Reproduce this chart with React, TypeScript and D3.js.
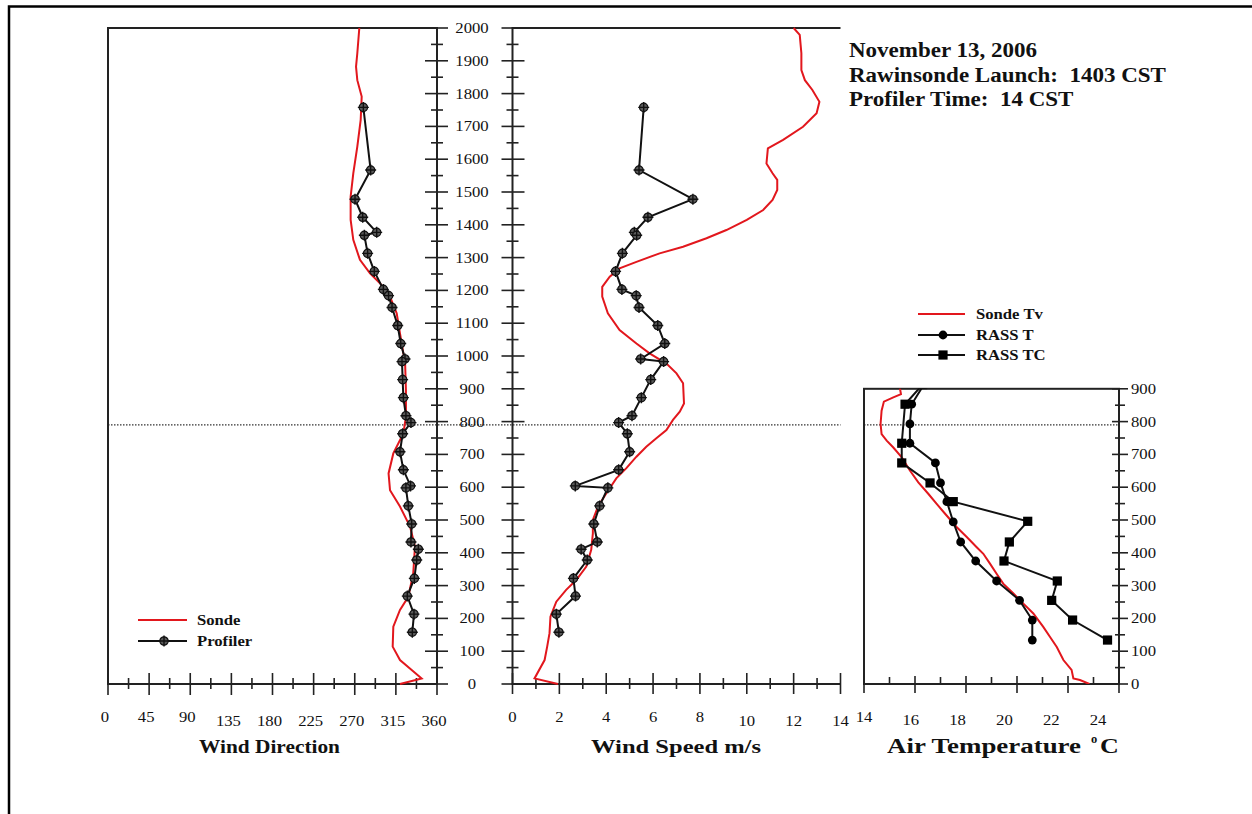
import React from "react";
import * as d3 from "d3";

// ---- Profile data: [height m, value] ----
const sondeDirection: [number, number][] = [
  [2000, 275], [1923, 272.8], [1882, 271.4], [1841, 272.8], [1791, 277.6], [1720, 276.5],
  [1638, 272.8], [1557, 268.4], [1486, 265.5], [1415, 265.5], [1354, 268.4], [1293, 275.7],
  [1252, 286.7], [1222, 297.6], [1181, 308.6], [1130, 315.9], [1069, 319.5], [1008, 323.2],
  [988, 325], [896, 326], [815, 326], [764, 323.2], [703, 312.2], [642, 307], [591, 308.6],
  [541, 319.5], [480, 330.5], [419, 335.9], [337, 334], [266, 328.6], [226, 319.5],
  [175, 312.2], [114, 311.5], [73, 319.5], [43, 332.3], [17, 343.2], [0, 319.5],
];

const sondeSpeed: [number, number][] = [
  [2000, 12.0], [1979, 12.26], [1923, 12.33], [1872, 12.33], [1841, 12.48], [1811, 12.8],
  [1775, 13.1], [1740, 12.98], [1699, 12.4], [1659, 11.55], [1633, 10.9], [1587, 10.84],
  [1557, 11.1], [1537, 11.3], [1506, 11.3], [1476, 11.1], [1445, 10.7], [1415, 10.0],
  [1384, 9.13], [1359, 8.28], [1333, 7.28], [1313, 6.28], [1287, 5.29], [1267, 4.57],
  [1242, 4.15], [1211, 3.83], [1181, 3.83], [1130, 4.07], [1079, 4.57], [1038, 5.29],
  [1008, 5.85], [977, 6.57], [947, 7.0], [917, 7.28], [855, 7.32], [830, 7.14], [805, 6.85],
  [774, 6.57], [749, 6.14], [723, 5.71], [693, 5.29], [658, 4.86], [627, 4.43], [581, 4.0],
  [541, 3.65], [500, 3.43], [459, 3.43], [409, 3.36], [358, 3.15], [317, 2.72], [287, 2.29],
  [251, 1.87], [205, 1.62], [155, 1.58], [114, 1.48], [73, 1.37], [17, 0.94], [0, 1.94],
];

const profilerHeights = [
  1758, 1567, 1478, 1423, 1377, 1368, 1313, 1258, 1203, 1184, 1148, 1093, 1038, 991, 983,
  928, 873, 818, 797, 763, 708, 653, 604, 598, 543, 488, 433, 411, 378, 322, 268, 213, 158,
];
const profilerDirection = [
  279.4, 287.4, 270.3, 278.7, 294, 280.5, 284.1, 291.4, 301.3, 307, 310.8, 317, 320.3, 325,
  321.7, 322.4, 323.2, 326, 331.5, 322.4, 319.5, 323.2, 331, 326, 328.6, 332.3, 331.5, 339.6,
  337.8, 335.2, 327.5, 334.8, 333,
];
const profilerSpeed = [
  5.6, 5.4, 7.7, 5.78, 5.2, 5.3, 4.69, 4.4, 4.67, 5.28, 5.4, 6.2, 6.5, 5.47, 6.45, 5.9, 5.5,
  5.1, 4.53, 4.9, 5.0, 4.53, 2.68, 4.07, 3.72, 3.47, 3.62, 2.93, 3.19, 2.6, 2.69, 1.87, 1.98,
];

const sondeTv: [number, number][] = [
  [905, 15.4], [884, 15.45], [874, 15.15], [861, 14.78], [833, 14.69], [793, 14.65],
  [762, 14.69], [742, 14.89], [721, 15.15], [691, 15.48], [651, 15.8], [615, 16.13],
  [580, 16.52], [549, 16.85], [519, 17.18], [478, 17.64], [448, 18.03], [417, 18.42],
  [397, 18.68], [367, 18.94], [336, 19.2], [306, 19.46], [276, 19.86], [245, 20.25],
  [215, 20.64], [174, 21.03], [144, 21.29], [113, 21.56], [73, 21.82], [43, 22.14],
  [17, 22.21], [12, 22.47], [0, 22.84],
];

const rassT: [number, number][] = [
  [913, 16.35], [853, 15.87], [793, 15.8], [734, 15.8], [674, 16.8], [613, 17.0], [556, 17.25],
  [494, 17.5], [433, 17.79], [375, 18.38], [314, 19.2], [255, 20.1], [195, 20.6], [134, 20.6],
];

const rassTC: [number, number][] = [
  [913, 16.3], [853, 15.61], [734, 15.48], [674, 15.48], [613, 16.59], [556, 17.5],
  [496, 20.42], [433, 19.7], [375, 19.49], [314, 21.58], [255, 21.36], [195, 22.18], [134, 23.55],
];

// ---- Axis tick labels ----
const heightLabels = d3.range(0, 2001, 100);
const tempHeightLabels = d3.range(0, 901, 100);
const directionLabels = [0, 45, 90, 135, 180, 225, 270, 315, 360];
const speedLabels = [0, 2, 4, 6, 8, 10, 12, 14];
const temperatureLabels = [14, 16, 18, 20, 22, 24];
const inversionHeight = 790;

const titleLines = ["November 13, 2006", "Rawinsonde Launch:  1403 CST", "Profiler Time:  14 CST"];

// ---- Scales ----
const BOTTOM = 684;
const PX_PER_M = 656 / 2000;
const yMain = d3.scaleLinear().domain([0, 2000]).range([BOTTOM, BOTTOM - 2000 * PX_PER_M]);
const yTemp = d3.scaleLinear().domain([0, 900]).range([BOTTOM, BOTTOM - 900 * PX_PER_M]);
const xDir = d3.scaleLinear().domain([0, 360]).range([108, 437]);
const xSpd = d3.scaleLinear().domain([0, 14]).range([512.5, 840.5]);
const xTemp = d3.scaleLinear().domain([14, 24]).range([864, 1119]);
// the temperature number row is typeset on a tighter pitch than its ticks
const xTempText = d3.scaleLinear().domain([14, 24]).range([864, 1098]);

const RED = "#e2171d";
const FONT = "'Liberation Serif', 'Times New Roman', serif";
const SX = 1.15;

function Txt(props: {
  x: number; y: number; size: number; bold?: boolean; anchor?: string; children: React.ReactNode;
}) {
  const { x, y, size, bold, anchor = "start", children } = props;
  return (
    <text
      transform={`translate(${x},${y}) scale(${SX},1)`}
      fontFamily={FONT}
      fontSize={size}
      fontWeight={bold ? "bold" : "normal"}
      textAnchor={anchor}
      fill="#111"
      style={{ whiteSpace: "pre" }}
    >
      {children}
    </text>
  );
}

// axis title stretched to a set width
function Title(props: { x: number; y: number; width: number; size: number; children: string }) {
  const { x, y, width, size, children } = props;
  return (
    <text
      x={x}
      y={y}
      fontFamily={FONT}
      fontSize={size}
      fontWeight="bold"
      fill="#111"
      textLength={width}
      lengthAdjust="spacingAndGlyphs"
    >
      {children}
    </text>
  );
}

function ProfMark({ x, y }: { x: number; y: number }) {
  return (
    <g transform={`translate(${x},${y})`}>
      <circle r={4.2} fill="#5a5a5a" stroke="#111" strokeWidth={1.2} />
      <path d="M-5.5,0H5.5M0,-5.5V5.5" stroke="#111" strokeWidth={1.4} />
    </g>
  );
}

export default function App() {
  const dirSondePath = d3.line<[number, number]>().x((d) => xDir(d[1])).y((d) => yMain(d[0]))(sondeDirection)!;
  const spdSondePath = d3.line<[number, number]>().x((d) => xSpd(d[1])).y((d) => yMain(d[0]))(sondeSpeed)!;
  const idx = profilerHeights.map((_, i) => i);
  const dirProfPath = d3.line<number>().x((i) => xDir(profilerDirection[i])).y((i) => yMain(profilerHeights[i]))(idx)!;
  const spdProfPath = d3.line<number>().x((i) => xSpd(profilerSpeed[i])).y((i) => yMain(profilerHeights[i]))(idx)!;
  const tempLine = d3.line<[number, number]>().x((d) => xTemp(d[1])).y((d) => yTemp(d[0]));

  const yTicks = d3.range(0, 2001, 50);
  const yTempTicks = d3.range(0, 901, 50);
  const dirTicks = d3.range(0, 361, 22.5);
  const spdTicks = d3.range(0, 15, 1);
  const tTicks = d3.range(14, 25, 1);
  const axisColor = "#222";

  const yDot = yMain(inversionHeight);

  return (
    <svg
      width={1252}
      height={814}
      style={{ position: "absolute", left: 0, top: 0, display: "block", background: "#fff" }}
    >
      <defs>
        <clipPath id="tempClip">
          <rect x={xTemp(14)} y={yTemp(900)} width={xTemp(24) - xTemp(14)} height={yTemp(0) - yTemp(900)} />
        </clipPath>
      </defs>

      {/* outer frame */}
      <path d="M9,814V6.5H1252" fill="none" stroke="#000" strokeWidth={2.5} />

      {/* dotted reference height */}
      <line x1={xDir(0)} x2={xSpd(14)} y1={yDot} y2={yDot} stroke="#333" strokeWidth={1.2} strokeDasharray="1.5 1.5" />
      <line x1={xTemp(14)} x2={xTemp(24)} y1={yDot} y2={yDot} stroke="#333" strokeWidth={1.2} strokeDasharray="1.5 1.5" />

      {/* ---------- Wind direction panel ---------- */}
      <rect x={xDir(0)} y={yMain(2000)} width={xDir(360) - xDir(0)} height={yMain(0) - yMain(2000)} fill="none" stroke={axisColor} strokeWidth={2} />
      {dirTicks.map((v) => {
        const major = v % 45 === 0;
        return (
          <line key={"dt" + v} x1={xDir(v)} x2={xDir(v)} y1={BOTTOM - (major ? 11 : 6)} y2={BOTTOM + (major ? 11 : 5)} stroke={axisColor} strokeWidth={1.6} />
        );
      })}
      {yTicks.map((v) => {
        const major = v % 100 === 0;
        return (
          <g key={"yt" + v}>
            <line x1={xDir(360) - (major ? 12 : 6)} x2={xDir(360) + (major ? 11 : 6)} y1={yMain(v)} y2={yMain(v)} stroke={axisColor} strokeWidth={1.6} />
            <line x1={xSpd(0) - (major ? 11 : 6)} x2={xSpd(0) + (major ? 12 : 6)} y1={yMain(v)} y2={yMain(v)} stroke={axisColor} strokeWidth={1.6} />
          </g>
        );
      })}
      {heightLabels.map((v) => (
        <Txt key={"hl" + v} x={472} y={yMain(v) + 5} size={14.5} anchor="middle">{v}</Txt>
      ))}
      {directionLabels.map((v) => (
        <Txt key={"dl" + v} x={xDir(v) - 3} y={v < 100 ? 722 : 726} size={14.5} anchor="middle">{v}</Txt>
      ))}
      <path d={dirSondePath} fill="none" stroke={RED} strokeWidth={2} />
      <path d={dirProfPath} fill="none" stroke="#111" strokeWidth={2} />
      {idx.map((i) => (
        <ProfMark key={"pd" + i} x={xDir(profilerDirection[i])} y={yMain(profilerHeights[i])} />
      ))}
      <Title x={199} y={753} width={141} size={19}>Wind Direction</Title>

      {/* wind legend */}
      <line x1={138} x2={187} y1={620} y2={620} stroke={RED} strokeWidth={2} />
      <Txt x={197} y={625} size={14.5} bold>Sonde</Txt>
      <line x1={138} x2={187} y1={641} y2={641} stroke="#111" strokeWidth={2} />
      <ProfMark x={164} y={641} />
      <Txt x={197} y={646} size={14.5} bold>Profiler</Txt>

      {/* ---------- Wind speed panel ---------- */}
      <path d={`M${xSpd(14)},${yMain(2000)}H${xSpd(0)}V${yMain(0)}H${xSpd(14)}`} fill="none" stroke={axisColor} strokeWidth={2} />
      {spdTicks.map((v) => {
        const major = v % 2 === 0;
        return (
          <line key={"st" + v} x1={xSpd(v)} x2={xSpd(v)} y1={BOTTOM - (major ? 11 : 6)} y2={BOTTOM + (major ? 10 : 5)} stroke={axisColor} strokeWidth={1.6} />
        );
      })}
      {speedLabels.map((v) => (
        <Txt key={"sl" + v} x={xSpd(v)} y={v < 10 ? 722 : 726} size={14.5} anchor="middle">{v}</Txt>
      ))}
      <path d={spdSondePath} fill="none" stroke={RED} strokeWidth={2} />
      <path d={spdProfPath} fill="none" stroke="#111" strokeWidth={2} />
      {idx.map((i) => (
        <ProfMark key={"ps" + i} x={xSpd(profilerSpeed[i])} y={yMain(profilerHeights[i])} />
      ))}
      <Title x={591} y={753} width={170} size={19.5}>Wind Speed m/s</Title>

      {/* ---------- Title block ---------- */}
      {titleLines.map((t, i) => (
        <Txt key={"tl" + i} x={849} y={57 + i * 24.5} size={20} bold>{t}</Txt>
      ))}

      {/* ---------- Temperature panel ---------- */}
      <rect x={xTemp(14)} y={yTemp(900)} width={xTemp(24) - xTemp(14)} height={yTemp(0) - yTemp(900)} fill="none" stroke={axisColor} strokeWidth={2} />
      {tTicks.map((v) => {
        const major = v % 2 === 0;
        return (
          <line key={"tt" + v} x1={xTemp(v)} x2={xTemp(v)} y1={BOTTOM - (major ? 8 : 7)} y2={BOTTOM + (major ? 9 : 0)} stroke={axisColor} strokeWidth={1.6} />
        );
      })}
      {yTempTicks.map((v) => {
        const major = v % 100 === 0;
        return (
          <line key={"ty" + v} x1={xTemp(24) - (major ? 7 : 4)} x2={xTemp(24) + (major ? 9 : 6)} y1={yTemp(v)} y2={yTemp(v)} stroke={axisColor} strokeWidth={1.6} />
        );
      })}
      {tempHeightLabels.map((v) => (
        <Txt key={"thl" + v} x={1131} y={yTemp(v) + 5} size={14.5}>{v}</Txt>
      ))}
      {temperatureLabels.map((v) => (
        <Txt key={"tml" + v} x={xTempText(v)} y={v === 14 ? 722 : 725} size={14.5} anchor="middle">{v}</Txt>
      ))}
      <g clipPath="url(#tempClip)">
        <path d={tempLine(sondeTv)!} fill="none" stroke={RED} strokeWidth={2} />
        <path d={tempLine(rassT)!} fill="none" stroke="#111" strokeWidth={2} />
        <path d={tempLine(rassTC)!} fill="none" stroke="#111" strokeWidth={2} />
        {rassT.map((d, i) => (
          <circle key={"rt" + i} cx={xTemp(d[1])} cy={yTemp(d[0])} r={4.4} fill="#000" />
        ))}
        {rassTC.map((d, i) => (
          <rect key={"rc" + i} x={xTemp(d[1]) - 4.6} y={yTemp(d[0]) - 4.6} width={9.2} height={9.2} fill="#000" />
        ))}
      </g>
      <Title x={887} y={753} width={194} size={20}>Air Temperature</Title>
      <text x={1091} y={743} fontFamily={FONT} fontSize={12.5} fontWeight="bold" fill="#111">o</text>
      <text transform={`translate(1100,753) scale(1.3,1)`} fontFamily={FONT} fontSize={20} fontWeight="bold" fill="#111">C</text>

      {/* temperature legend */}
      <line x1={918} x2={965} y1={314} y2={314} stroke={RED} strokeWidth={2} />
      <Txt x={976} y={319} size={14.5} bold>Sonde Tv</Txt>
      <line x1={918} x2={965} y1={335} y2={335} stroke="#111" strokeWidth={2} />
      <circle cx={943} cy={335} r={4.4} fill="#000" />
      <Txt x={976} y={340} size={14.5} bold>RASS T</Txt>
      <line x1={918} x2={965} y1={355} y2={355} stroke="#111" strokeWidth={2} />
      <rect x={938.4} y={350.4} width={9.2} height={9.2} fill="#000" />
      <Txt x={976} y={360} size={14.5} bold>RASS TC</Txt>
    </svg>
  );
}
